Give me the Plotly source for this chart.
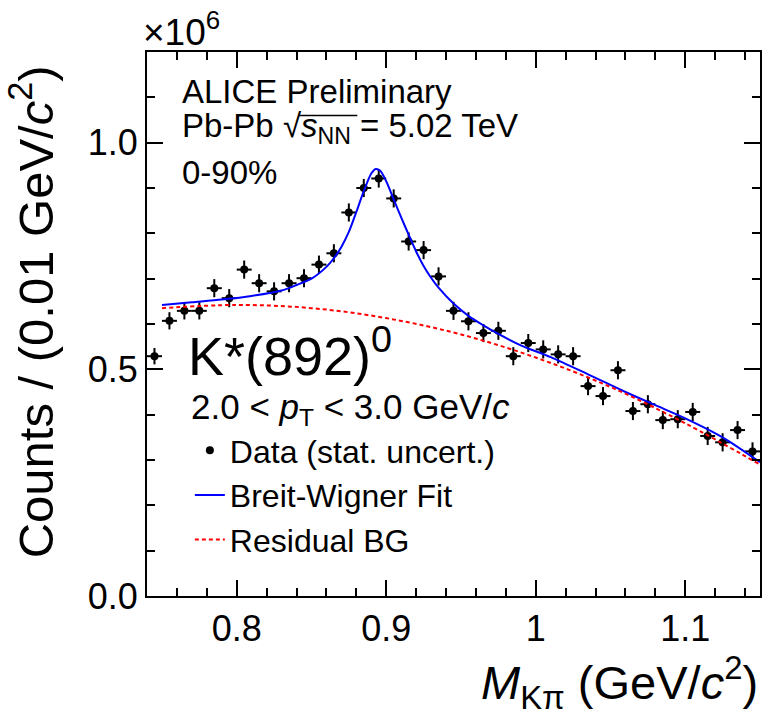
import plotly.graph_objects as go

# K*(892)^0 -> K pi invariant-mass distribution, Pb-Pb 5.02 TeV, 0-90%, 2 < pT < 3 GeV/c
# Counts are stored in units of 10^6 per 0.01 GeV/c^2 bin.
mass_bins = [0.745, 0.755, 0.765, 0.775, 0.785, 0.795, 0.805, 0.815, 0.825, 0.835,
             0.845, 0.855, 0.865, 0.875, 0.885, 0.895, 0.905, 0.915, 0.925, 0.935,
             0.945, 0.955, 0.965, 0.975, 0.985, 0.995, 1.005, 1.015, 1.025, 1.035,
             1.045, 1.055, 1.065, 1.075, 1.085, 1.095, 1.105, 1.115, 1.125, 1.135,
             1.145]
counts = [0.529, 0.607, 0.629, 0.629, 0.679, 0.657, 0.720, 0.690, 0.672, 0.690,
          0.701, 0.731, 0.756, 0.846, 0.900, 0.921, 0.877, 0.782, 0.763, 0.705,
          0.629, 0.606, 0.580, 0.585, 0.529, 0.558, 0.544, 0.533, 0.529, 0.463,
          0.441, 0.498, 0.408, 0.423, 0.388, 0.390, 0.406, 0.353, 0.339, 0.366,
          0.319]
stat_err = [0.018, 0.019, 0.019, 0.019, 0.020, 0.020, 0.020, 0.020, 0.020, 0.020,
            0.020, 0.020, 0.020, 0.020, 0.020, 0.020, 0.020, 0.020, 0.020, 0.020,
            0.020, 0.020, 0.020, 0.020, 0.020, 0.020, 0.020, 0.020, 0.020, 0.020,
            0.020, 0.020, 0.020, 0.020, 0.020, 0.020, 0.020, 0.020, 0.020, 0.020,
            0.020]
bin_half_width = 0.005

# Breit-Wigner + residual background fit curve
fit_mass = [0.750, 0.770, 0.790, 0.810, 0.830, 0.840, 0.850, 0.860, 0.865, 0.870,
            0.875, 0.880, 0.885, 0.890, 0.893, 0.896, 0.900, 0.905, 0.910, 0.915,
            0.920, 0.925, 0.930, 0.935, 0.945, 0.955, 0.965, 0.975, 0.990, 1.010,
            1.035, 1.060, 1.080, 1.100, 1.125, 1.150]
fit_counts = [0.642, 0.648, 0.654, 0.662, 0.674, 0.686, 0.700, 0.726, 0.745, 0.770,
              0.803, 0.847, 0.893, 0.932, 0.942, 0.938, 0.915, 0.875, 0.835, 0.797,
              0.760, 0.728, 0.702, 0.680, 0.645, 0.618, 0.597, 0.578, 0.553, 0.527,
              0.489, 0.450, 0.421, 0.392, 0.350, 0.295]

# Residual background component
bg_mass = [0.75, 0.80, 0.85, 0.90, 0.95, 1.00, 1.05, 1.10, 1.15]
bg_counts = [0.635, 0.642, 0.635, 0.613, 0.577, 0.526, 0.461, 0.381, 0.290]

FONT = "Liberation Sans, Arial, Helvetica, sans-serif"

fig = go.Figure()

fig.add_trace(go.Scatter(
    x=mass_bins, y=counts, mode="markers", name="Data (stat. uncert.)",
    marker=dict(color="black", size=8),
    error_y=dict(type="data", array=stat_err, color="black", thickness=2, width=0),
    error_x=dict(type="constant", value=bin_half_width, color="black", thickness=2, width=0),
))
fig.add_trace(go.Scatter(
    x=fit_mass, y=fit_counts, mode="lines", name="Breit-Wigner Fit",
    line=dict(color="#0000ff", width=2, shape="spline", smoothing=0.8),
))
fig.add_trace(go.Scatter(
    x=bg_mass, y=bg_counts, mode="lines", name="Residual BG",
    line=dict(color="#ff0000", width=2, dash="4px,3px", shape="spline", smoothing=1.0),
))

axis_common = dict(
    showline=True, linecolor="black", linewidth=2, mirror="ticks",
    ticks="inside", tickwidth=2, tickcolor="black",
    showgrid=False, zeroline=False,
    tickfont=dict(family=FONT, size=36, color="black"),
)

fig.update_xaxes(
    range=[0.74, 1.15], tickvals=[0.8, 0.9, 1.0, 1.1], ticktext=["0.8", "0.9", "1", "1.1"],
    ticklen=16,
    minor=dict(dtick=0.02, tick0=0.8, ticks="inside", ticklen=8, tickwidth=2, tickcolor="black"),
    **axis_common,
)
fig.update_yaxes(
    range=[0, 1.2], tickvals=[0.0, 0.5, 1.0], ticktext=["0.0", "0.5", "1.0"],
    ticklen=16,
    minor=dict(dtick=0.1, tick0=0, ticks="inside", ticklen=8, tickwidth=2, tickcolor="black"),
    **axis_common,
)

def px_x(x):
    return (x - 147) / 615.0

def px_y(y):
    return (596 - y) / 544.0

ann = []
def text(x, y, s, size, xanchor="left", yanchor="middle", angle=0):
    ann.append(dict(
        x=x, y=y, xref="paper", yref="paper", text=s, showarrow=False,
        xanchor=xanchor, yanchor=yanchor, textangle=angle,
        font=dict(family=FONT, size=size, color="black"),
    ))

text(px_x(141), px_y(30), "×10<sup>6</sup>", 37)
text(px_x(180), px_y(92), "ALICE Preliminary", 33)
text(px_x(180), px_y(128), "Pb-Pb √<i>s</i><sub>NN</sub> = 5.02 TeV", 33)
text(px_x(180), px_y(172), "0-90%", 33)
text(px_x(186), px_y(352), "K*(892)<sup>0</sup>", 54)
text(px_x(189), px_y(409), "2.0 &lt; <i>p</i><sub>T</sub> &lt; 3.0 GeV/<i>c</i>", 35)
text(1.0, px_y(682), "<i>M</i><sub>Kπ</sub> (GeV/<i>c</i><sup>2</sup>)", 47, xanchor="right")
text(px_x(32), px_y(312), "Counts / (0.01 GeV/<i>c</i><sup>2</sup>)", 49,
     xanchor="center", angle=-90)

fig.update_layout(
    width=765, height=715,
    margin=dict(l=147, r=3, t=52, b=119),
    paper_bgcolor="white", plot_bgcolor="white",
    annotations=ann,
    shapes=[dict(type="line", xref="paper", yref="paper",
                 x0=px_x(299), x1=px_x(358), y0=px_y(115.5), y1=px_y(115.5),
                 line=dict(color="black", width=1.5))],
    showlegend=True,
    legend=dict(
        x=px_x(190), y=px_y(423), xanchor="left", yanchor="top",
        font=dict(family=FONT, size=32, color="black"),
        bgcolor="rgba(0,0,0,0)", borderwidth=0,
        traceorder="normal", itemwidth=30,
    ),
)

fig.write_html("out.html")
